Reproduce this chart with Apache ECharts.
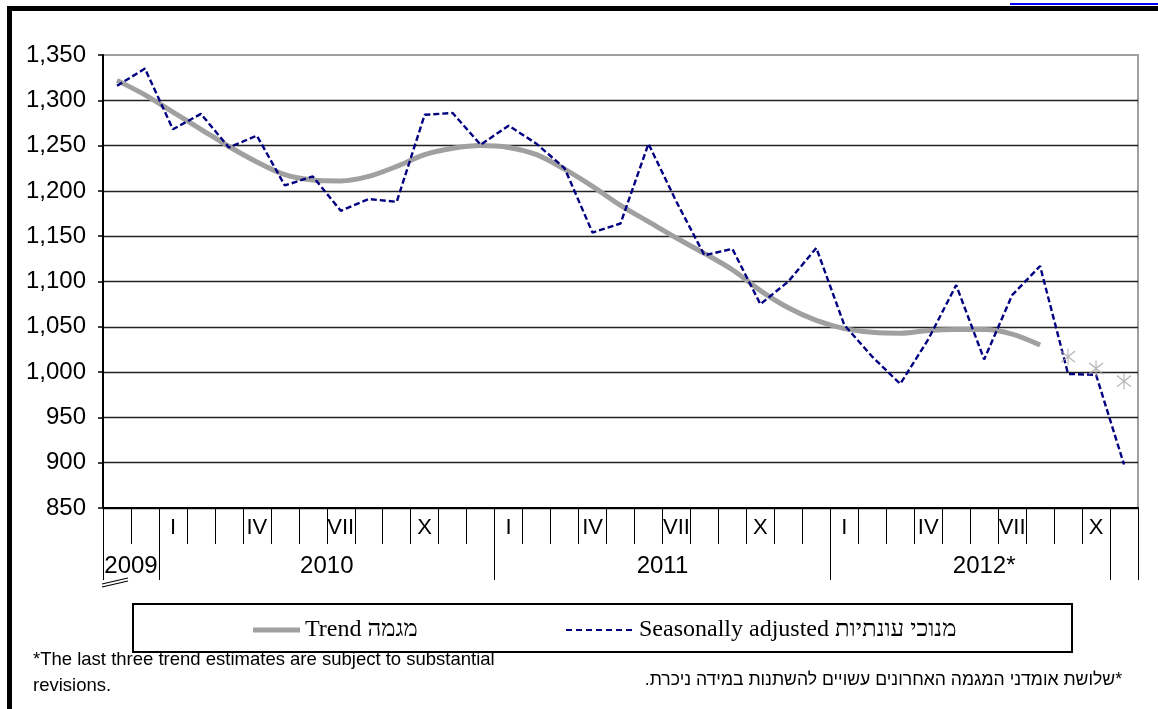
<!DOCTYPE html>
<html><head><meta charset="utf-8">
<script src="https://cdn.jsdelivr.net/npm/echarts@6/dist/echarts.min.js"></script>
<style>html,body{margin:0;padding:0;background:#fff}#c{width:1158px;height:709px}</style>
</head><body><div id="c"></div>
<script>
// Months Nov 2009 .. Nov 2012
const categories = ['2009-11','2009-12',
 '2010-01','2010-02','2010-03','2010-04','2010-05','2010-06','2010-07','2010-08','2010-09','2010-10','2010-11','2010-12',
 '2011-01','2011-02','2011-03','2011-04','2011-05','2011-06','2011-07','2011-08','2011-09','2011-10','2011-11','2011-12',
 '2012-01','2012-02','2012-03','2012-04','2012-05','2012-06','2012-07','2012-08','2012-09','2012-10','2012-11'];
const monthLabels = ['','',
 'I','','','IV','','','VII','','','X','','',
 'I','','','IV','','','VII','','','X','','',
 'I','','','IV','','','VII','','','X',''];
const yearNames = ['2009','2010','2011','2012*'];
const yearStart = [0,2,14,26];
const yearEnd = [2,14,26,37];
const yearTicks = [0,2,14,26,36,37];

const seasonallyAdjusted = [1316,1335,1268,1285,1248,1261,1206,1216,1178,1191,1188,1284,1286,1251,
 1272,1252,1225,1154,1164,1252,1188,1129,1136,1075,1100,1137,
 1052,1017,987,1036,1096,1014,1085,1117,998,997,898];
const trend = [1322,1306,1287,1268,1249,1232,1218,1212,1211,1216,1227,1240,1247,1250,
 1248,1240,1224,1205,1184,1166,1148,1131,1113,1090,1071,1057,
 1048,1044,1043,1046,1047,1047,1042,1030,null,null,null];
const trendEstimates = [null,null,null,null,null,null,null,null,null,null,null,null,null,null,
 null,null,null,null,null,null,null,null,null,null,null,null,
 null,null,null,null,null,null,null,null,1017,1004,990];

const yMin = 850, yMax = 1350, yStep = 50;
const trendName = 'Trend מגמה';
const saName = 'Seasonally adjusted מנוכי עונתיות';

const yearCenters = yearNames.map((n,i)=> (yearStart[i]+yearEnd[i])/2);

const chart = echarts.init(document.getElementById('c'), null, {renderer:'canvas'});
const font = 'Liberation Sans';
const dashIcon = 'path://M0,0h6v2h-6zM10,0h6v2h-6zM20,0h6v2h-6zM30,0h6v2h-6zM40,0h6v2h-6zM50,0h6v2h-6zM60,0h6v2h-6z';
chart.setOption({
  animation:false,
  backgroundColor:'#fff',
  grid:{left:103,right:20,top:55,bottom:201,show:true,borderColor:'#a0a0a0',borderWidth:2,backgroundColor:'transparent'},
  xAxis:[{
    type:'category', data:categories, boundaryGap:true,
    axisLine:{show:true,lineStyle:{color:'#000',width:2}},
    axisTick:{show:true,interval:0,length:36,lineStyle:{color:'#000',width:1}},
    axisLabel:{interval:0,formatter:(v,i)=>monthLabels[i],fontSize:22,fontFamily:font,color:'#000',margin:9},
    splitLine:{show:false}
  },{
    type:'value', min:0, max:37, position:'bottom',
    axisLine:{show:false},
    axisTick:{show:true,customValues:yearTicks,length:72,lineStyle:{color:'#000',width:1}},
    axisLabel:{show:true,customValues:yearCenters,fontSize:24,fontFamily:font,color:'#000',margin:46,
      formatter:(v)=>{const k=yearCenters.indexOf(v);return k>=0?yearNames[k]:'';}},
    splitLine:{show:false}
  }],
  yAxis:{
    type:'value', min:yMin, max:yMax, interval:yStep,
    axisLine:{show:true,lineStyle:{color:'#000',width:2}},
    axisTick:{show:true,length:5,lineStyle:{color:'#000',width:1.5}},
    axisLabel:{fontSize:24,fontFamily:font,color:'#000',margin:17,formatter:v=>v.toLocaleString('en-US')},
    splitLine:{show:true,showMaxLine:false,lineStyle:{color:'#222',width:1.3}}
  },
  legend:[{
    data:[trendName], left:253, top:617, padding:0, itemWidth:47, itemHeight:5, icon:'rect',
    itemStyle:{color:'#a0a0a0'},
    textStyle:{fontFamily:'Liberation Serif',fontSize:24,color:'#000',lineHeight:26}
  },{
    data:[saName], left:566, top:617, padding:0, itemWidth:70, itemHeight:2, icon:dashIcon,
    itemStyle:{color:'#000080'},
    textStyle:{fontFamily:'Liberation Serif',fontSize:24,color:'#000',lineHeight:26}
  }],
  series:[{
    name:trendName, type:'line', data:trend, xAxisIndex:0, smooth:0.3, symbol:'none', z:2,
    lineStyle:{color:'#a0a0a0',width:5}, itemStyle:{color:'#a0a0a0'}
  },{
    name:saName, type:'line', data:seasonallyAdjusted, xAxisIndex:0, symbol:'none', z:3,
    lineStyle:{color:'#000080',width:2.4,type:[6,3]}, itemStyle:{color:'#000080'}
  },{
    name:'estimates', type:'scatter', data:trendEstimates, xAxisIndex:0, z:4,
    symbol:'path://M10,0L10,20M3,3L17,17M3,17L17,3', symbolSize:[14,16],
    itemStyle:{color:'rgba(0,0,0,0)',borderColor:'#a8a8a8',borderWidth:1.3}
  }],
  graphic:[
    {type:'rect',shape:{x:7,y:6,width:5,height:703},style:{fill:'#000'}},
    {type:'rect',shape:{x:7,y:6,width:1151,height:5},style:{fill:'#000'}},
    {type:'rect',shape:{x:1010,y:3,width:148,height:2},style:{fill:'#0000ff'}},
    {type:'rect',shape:{x:133,y:604,width:939,height:48},style:{fill:'none',stroke:'#000',lineWidth:2},z:0},
    {type:'line',shape:{x1:102,y1:584,x2:128,y2:578},style:{stroke:'#000',lineWidth:1.2}},
    {type:'line',shape:{x1:102,y1:587,x2:128,y2:581},style:{stroke:'#000',lineWidth:1.2}},
    {type:'text',x:33,y:647,style:{text:'*The last three trend estimates are subject to substantial\nrevisions.',font:'18.5px Liberation Sans',fill:'#000',lineHeight:26}},
    {type:'text',x:1122,y:667,style:{text:'\u200F*שלושת אומדני המגמה האחרונים עשויים להשתנות במידה ניכרת.\u200F',font:'17.6px Liberation Sans',fill:'#000',align:'right',lineHeight:26}}
  ]
});
</script></body></html>
